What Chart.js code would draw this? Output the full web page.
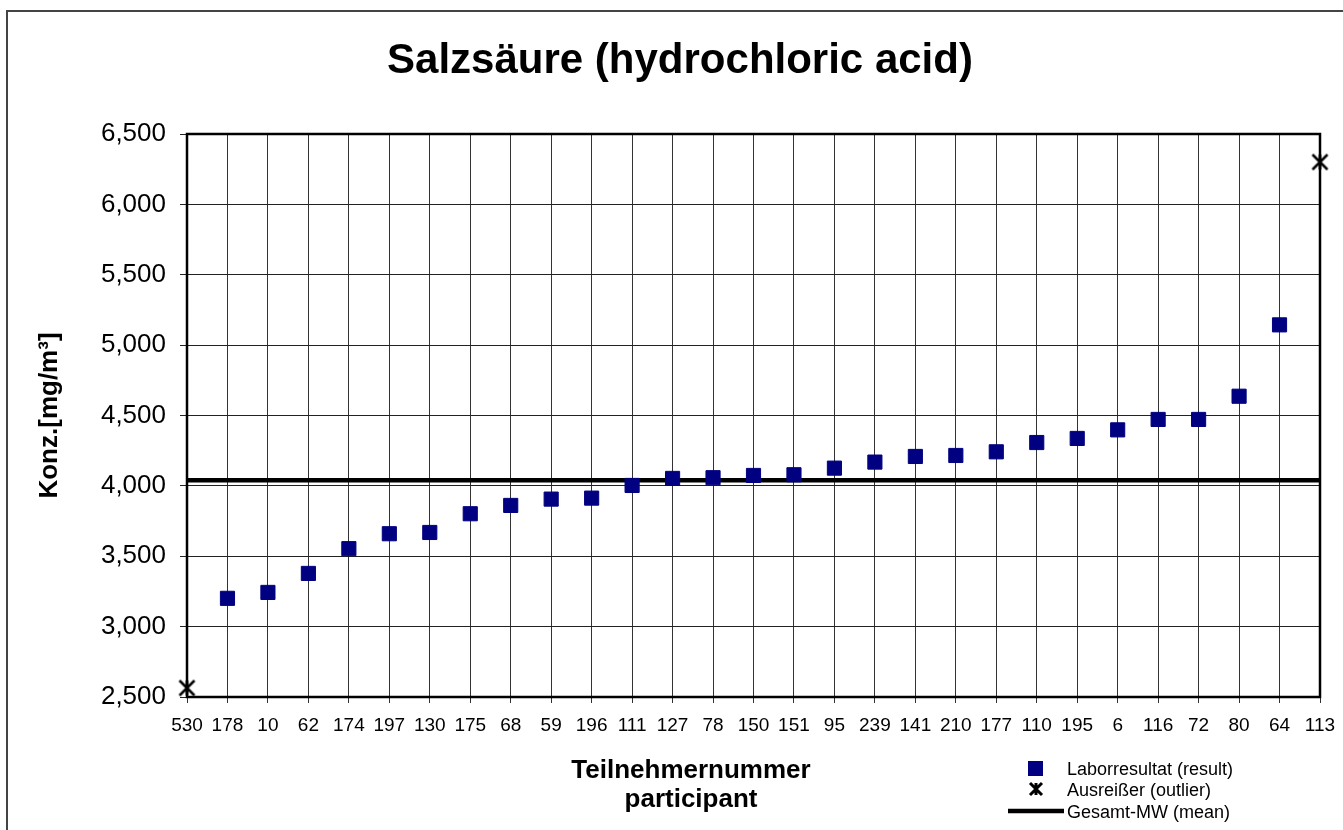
<!DOCTYPE html>
<html>
<head>
<meta charset="utf-8">
<title>Salzsäure (hydrochloric acid)</title>
<script src="https://cdn.jsdelivr.net/npm/chart.js@4.4.0/dist/chart.umd.min.js"></script>
<style>
  html, body { margin: 0; padding: 0; background: #fff; }
  #wrap { width: 1343px; height: 830px; }
</style>
</head>
<body>
<div id="wrap"><canvas id="salzsaeureChart" width="1343" height="830"></canvas></div>
<script>
// Teilnehmer (x-Achse), sortiert nach Ergebnis
const participants = ['530', '178', '10', '62', '174', '197', '130', '175', '68', '59', '196', '111', '127', '78',
    '150', '151', '95', '239', '141', '210', '177', '110', '195', '6', '116', '72', '80', '64', '113'];

// Laborresultate in mg/m³ (null = Ausreißer)
const labResults = [null, 3201, 3243, 3378, 3554, 3660, 3669, 3802, 3861, 3906, 3913, 4003, 4053, 4058,
    4074, 4079, 4126, 4169, 4209, 4216, 4242, 4308, 4337, 4398, 4472, 4472, 4637, 5144, null];

// Ausreißer
const outlierParticipants = ['530', '113'];
const outlierValues = [2564, 6301];

// Gesamt-Mittelwert
const meanValue = 4040;

// y-Achse
const yMin = 2500;
const yMax = 6500;
const yStep = 500;

const FONT = "'Liberation Sans', Arial, sans-serif";

// Stern-Marker wie in Excel (X mit senkrechtem Strich)
function makeStar(size, lw){
    const c = document.createElement('canvas');
    c.width = size + 6;
    c.height = size + 6;
    const g = c.getContext('2d');
    const m = c.width / 2, h = size / 2;
    g.strokeStyle = '#000';
    g.lineWidth = lw;
    g.beginPath();
    g.moveTo(m - h, m - h); g.lineTo(m + h, m + h);
    g.moveTo(m + h, m - h); g.lineTo(m - h, m + h);
    g.moveTo(m, m - h); g.lineTo(m, m + h);
    g.stroke();
    return c;
}
const starPlot = makeStar(15, 2.5);
const starLegend = makeStar(12, 3);

const extras = {
    id: 'extras',
    beforeDraw(chart){
        const ctx = chart.ctx;
        ctx.save();
        ctx.strokeStyle = '#444';
        ctx.lineWidth = 2;
        ctx.strokeRect(7, 11, 1400, 900);
        ctx.restore();
    },
    beforeDatasetsDraw(chart){
        const {ctx, chartArea: a} = chart;
        ctx.save();
        ctx.strokeStyle = '#000';
        ctx.lineWidth = 2.5;
        ctx.strokeRect(a.left, a.top, a.right - a.left, a.bottom - a.top);
        ctx.restore();
    },
    afterDraw(chart){
        const ctx = chart.ctx;
        const ds = chart.data.datasets;
        ctx.save();
        ctx.fillStyle = '#000';
        ctx.textAlign = 'center';
        ctx.textBaseline = 'alphabetic';

        // Titel
        ctx.font = 'bold 42px ' + FONT;
        ctx.fillText('Salzsäure (hydrochloric acid)', 680, 73);

        // x-Achsentitel
        ctx.font = 'bold 26px ' + FONT;
        ctx.fillText('Teilnehmernummer', 691, 778);
        ctx.fillText('participant', 691, 807);

        // Legende
        ctx.textAlign = 'left';
        ctx.font = '18px ' + FONT;
        ctx.fillStyle = '#000080';
        ctx.fillRect(1028, 761, 15, 15);
        ctx.drawImage(starLegend, 1036 - starLegend.width / 2, 789 - starLegend.height / 2);
        ctx.strokeStyle = '#000';
        ctx.lineWidth = 4.5;
        ctx.beginPath();
        ctx.moveTo(1008, 811);
        ctx.lineTo(1064, 811);
        ctx.stroke();
        ctx.fillStyle = '#000';
        ctx.fillText(ds[1].label, 1067, 775);
        ctx.fillText(ds[2].label, 1067, 796);
        ctx.fillText(ds[0].label, 1067, 818);
        ctx.restore();
    }
};

const ctx = document.getElementById('salzsaeureChart').getContext('2d');
new Chart(ctx, {
    type: 'line',
    data: {
        labels: participants,
        datasets: [{
            label: 'Gesamt-MW (mean)',
            data: [{x: participants[0], y: meanValue}, {x: participants[participants.length - 1], y: meanValue}],
            borderColor: '#000',
            borderWidth: 4.5,
            pointRadius: 0,
            order: 3,
            clip: false
        }, {
            label: 'Laborresultat (result)',
            data: labResults,
            showLine: false,
            pointStyle: 'rect',
            pointRadius: 10,
            backgroundColor: '#000080',
            borderColor: '#000080',
            borderWidth: 1,
            order: 2,
            clip: false
        }, {
            label: 'Ausreißer (outlier)',
            data: outlierParticipants.map((p, i) => ({x: p, y: outlierValues[i]})),
            showLine: false,
            pointStyle: starPlot,
            pointRadius: 8,
            order: 1,
            clip: false
        }]
    },
    options: {
        responsive: false,
        animation: false,
        events: [],
        layout: {
            padding: {top: 134, right: 23, left: 0, bottom: 0}
        },
        plugins: {
            legend: {display: false},
            title: {display: false},
            tooltip: {enabled: false}
        },
        scales: {
            x: {
                type: 'category',
                offset: false,
                border: {display: false},
                grid: {color: '#333', lineWidth: 1, tickLength: 6, drawTicks: true},
                ticks: {
                    color: '#000',
                    font: {family: FONT, size: 19},
                    padding: 11,
                    maxRotation: 0,
                    autoSkip: false
                },
                afterFit(scale){
                    scale.height = 133;
                    scale.paddingLeft = 16;
                    scale.paddingRight = 16;
                }
            },
            y: {
                min: yMin,
                max: yMax,
                border: {display: false},
                grid: {color: '#222', lineWidth: 1, tickLength: 7},
                ticks: {
                    stepSize: yStep,
                    color: '#000',
                    font: {family: FONT, size: 26},
                    padding: 14,
                    callback: v => v.toLocaleString('en-US')
                },
                title: {
                    display: true,
                    text: 'Konz.[mg/m³]',
                    color: '#000',
                    font: {family: FONT, size: 26, weight: 'bold'},
                    padding: {top: 34, bottom: 0}
                },
                afterFit(scale){ scale.width = 187; }
            }
        }
    },
    plugins: [extras]
});
</script>
</body>
</html>
